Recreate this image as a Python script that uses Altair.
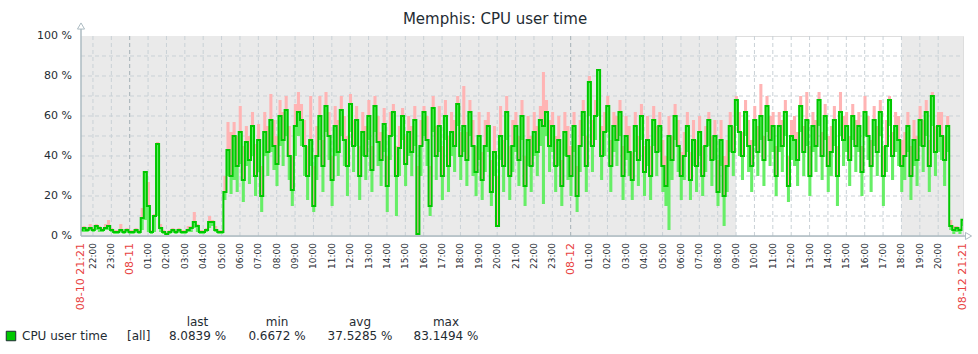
import altair as alt
import pandas as pd

# ---------------- data ----------------
STEP_MIN = 10  # one sample every 10 minutes, starting 08-10 21:21

avg_low = [3,4,3,4,3,5,4,3,4,5, 3,2,2,3,2,3,2,2,3,2, 9,32,15,2,10,46,4,2,1,2,
           3,2,3,2,2,3,4,7,5,2, 2,3,7,7,3,2,2]
max_low = [4,5,4,6,4,6,5,4,6,8, 4,3,3,6,3,4,3,3,4,3, 14,32,27,3,11,47,6,3,2,3,
           4,3,4,3,3,5,5,12,6,3, 3,4,10,8,5,3,3]
min_low = [2,2,2,3,2,3,2,2,3,3, 2,1,1,2,1,2,1,1,2,1, 3,8,2,1,2,10,2,1,1,1,
           2,1,2,1,1,2,2,4,2,1, 1,2,4,5,2,1,1]

avg_day = [
    22,43,30,50,35,52,  28,47,38,55,30,48,  20,52,42,58,45,36,  60,48,63,40,23,55,
    62,58,45,30,48,15,  40,60,35,65,50,28,  55,42,63,48,35,66,  45,58,30,52,40,60,
    33,65,47,38,56,25,  50,62,30,44,60,36,  52,42,58,1,45,62,   48,15,64,40,55,30,
    60,35,52,45,66,40,  55,38,62,45,32,50,  28,45,55,22,42,5,   50,35,62,30,45,55,
    38,60,25,48,35,52,  42,58,55,62,45,55,  35,48,25,52,40,30,  55,20,45,62,35,77,
    45,60,83,40,52,65,  35,55,48,62,30,50,  42,28,55,38,60,32,  48,30,58,42,55,35,
    25,50,38,60,45,30,  40,55,28,48,35,52,  30,45,58,38,50,22,  48,20,35,55,42,68,
    52,40,62,45,35,58,  42,60,38,65,48,55,  30,55,45,62,25,50,  48,38,65,42,58,30,
    55,45,68,40,60,35,  42,58,30,62,48,55,  38,60,45,55,32,62,  50,35,58,42,62,30,
    45,68,40,55,48,35,  40,55,30,48,38,58,  45,62,35,70,42,55,  50,38,55]
max_day = [
    30,57,52,57,50,65,  45,55,50,62,46,56,  35,62,55,71,58,50,  68,62,70,55,40,66,
    72,66,58,45,70,35,  55,70,48,72,62,40,  65,58,70,60,50,71,  58,65,45,62,55,68,
    45,70,60,52,64,40,  62,66,45,55,64,50,  60,55,65,35,58,65,  60,35,70,55,65,45,
    68,50,62,58,70,52,  75,52,68,58,45,62,  42,58,62,38,55,30,  65,48,70,45,58,62,
    50,68,40,60,50,62,  55,65,82,68,58,62,  50,60,38,62,55,45,  62,35,58,68,50,80,
    58,68,83.15,55,62,70, 48,62,60,68,45,60, 55,42,62,50,66,45,  60,45,65,55,62,48,
    40,60,50,66,58,42,  52,62,42,58,48,60,  45,55,62,50,58,38,  58,40,48,62,55,70,
    62,52,68,58,48,65,  55,76,50,70,60,62,  45,62,58,68,40,58,  60,52,70,55,72,45,
    62,58,72,52,66,50,  55,65,45,72,60,62,  50,66,58,62,45,70,  60,48,65,55,68,45,
    58,70,52,62,60,48,  52,62,45,58,50,65,  58,68,48,72,55,62,  62,50,60]
min_day = [
    18,30,21,28,22,36,  17,35,26,40,20,32,  12,40,30,42,33,25,  45,35,50,28,15,40,
    50,45,30,18,35,12,  28,48,22,52,38,15,  40,30,50,35,20,52,  32,45,18,40,28,48,
    22,52,35,25,42,12,  38,50,10,30,48,25,  40,30,45,0.6672,30,50, 35,10,52,28,42,18,
    48,22,40,32,55,28,  42,25,50,30,20,38,  18,32,42,15,30,5,   38,22,48,18,32,42,
    25,48,15,35,22,40,  30,45,16,50,32,42,  22,35,15,40,28,20,  42,12,32,50,22,60,
    32,48,60,28,40,52,  22,42,35,50,18,38,  30,18,42,25,48,20,  35,18,45,30,42,22,
    15,3,28,48,32,18,   28,42,18,35,22,40,  20,32,45,25,38,15,  35,5,22,42,30,55,
    40,28,50,32,22,45,  30,48,25,52,35,42,  20,42,32,50,17,38,  35,25,52,30,45,20,
    42,32,55,28,48,22,  30,45,15,50,35,42,  25,48,32,42,20,50,  38,22,45,30,50,15,
    32,55,28,42,35,22,  28,42,18,35,25,45,  32,50,22,55,30,42,  38,25,42]

avg_tail = [5,3,4,3,8.0839]
max_tail = [8,5,5,4,8.0839]
min_tail = [3,1,2,1,5]

avg_vals = avg_low + avg_day + avg_tail
max_vals = max_low + max_day + max_tail
min_vals = min_low + min_day + min_tail

# shaded (non-working) periods, minutes from 08-10 21:21
shade_start = [0, 2679]
shade_end = [2139, 2880]

tick_min = [0] + [39 + 60 * k for k in range(47)] + [2880]
tick_labels = (["08-10 21:21", "22:00", "23:00", "08-11"]
               + ["01:00","02:00","03:00","04:00","05:00","06:00","07:00","08:00",
                  "09:00","10:00","11:00","12:00","13:00","14:00","15:00","16:00",
                  "17:00","18:00","19:00","20:00","21:00","22:00","23:00"]
               + ["08-12"]
               + ["01:00","02:00","03:00","04:00","05:00","06:00","07:00","08:00",
                  "09:00","10:00","11:00","12:00","13:00","14:00","15:00","16:00",
                  "17:00","18:00","19:00","20:00"]
               + ["08-12 21:21"])
date_labels = ["08-10 21:21", "08-11", "08-12", "08-12 21:21"]

y_grid = [10, 20, 30, 40, 50, 60, 70, 80, 90]
y_ticks = [0, 20, 40, 60, 80, 100]
y_tick_labels = ["0 %", "20 %", "40 %", "60 %", "80 %", "100 %"]

legend_heads = ["last", "min", "avg", "max"]
legend_vals = ["8.0839 %", "0.6672 %", "37.5285 %", "83.1494 %"]

# ---------------- frames ----------------
series = pd.DataFrame({
    "m": [i * STEP_MIN for i in range(len(avg_vals))],
    "avg": avg_vals, "mn": min_vals, "mx": max_vals,
})
shade = pd.DataFrame({"a": shade_start, "b": shade_end})
ticks = pd.DataFrame({"m": tick_min, "label": tick_labels})
ticks["isdate"] = ticks["label"].isin(date_labels)
ticks["color"] = ticks["isdate"].map({True: "#E8423F", False: "#1F2C33"})
ticks["fs"] = ticks["isdate"].map({True: 11, False: 9})
vgrid = ticks[(ticks.m > 0) & (ticks.m < 2880)].copy()
vgrid["c"] = vgrid["isdate"].map({True: "#A3AFB6", False: "#C9D1D6"})
hgrid = pd.DataFrame({"v": y_grid})
ylab = pd.DataFrame({"v": y_ticks, "t": y_tick_labels})

FONT = "DejaVu Sans"
TXT = "#1F2C33"
W, H = 882, 200
xs = alt.Scale(domain=[0, 2880], nice=False)
ys = alt.Scale(domain=[0, 100], nice=False)

base = alt.Chart(series)

bg = alt.Chart(shade).mark_rect(color="#EAEAEA").encode(
    x=alt.X("a:Q", scale=xs, axis=None), x2="b:Q",
    y=alt.value(0), y2=alt.value(H))

vg = alt.Chart(vgrid).mark_rule(strokeDash=[4, 3], strokeWidth=1).encode(
    x=alt.X("m:Q", scale=xs, axis=None), y=alt.value(0), y2=alt.value(H),
    color=alt.Color("c:N", scale=None))

hg = alt.Chart(hgrid).mark_rule(strokeDash=[4, 3], strokeWidth=1, color="#C9D1D6").encode(
    y=alt.Y("v:Q", scale=ys, axis=None), x=alt.value(0), x2=alt.value(W))

area_max = base.mark_area(color="#FFB4B4", interpolate="step").encode(
    x=alt.X("m:Q", scale=xs, axis=None),
    y=alt.Y("mx:Q", scale=ys, axis=None), y2="avg:Q")
area_min = base.mark_area(color="#66EE66", interpolate="step").encode(
    x=alt.X("m:Q", scale=xs, axis=None),
    y=alt.Y("avg:Q", scale=ys, axis=None), y2="mn:Q")
line_avg = base.mark_line(color="#00C800", strokeWidth=2, interpolate="step").encode(
    x=alt.X("m:Q", scale=xs, axis=None),
    y=alt.Y("avg:Q", scale=ys, axis=None))

axes_df = pd.DataFrame({"x0": [0, 0], "x1": [0, 2896], "y0": [0, 0], "y1": [104, 0]})
axis_lines = alt.Chart(axes_df).mark_rule(color="#ACBBC2", strokeWidth=1.5).encode(
    x=alt.X("x0:Q", scale=xs, axis=None), x2="x1:Q",
    y=alt.Y("y0:Q", scale=ys, axis=None), y2="y1:Q")
arrows_df = pd.DataFrame({"x": [0, 2898], "y": [105, 0], "s": ["triangle-up", "triangle-right"]})
arrows = alt.Chart(arrows_df).mark_point(filled=True, fill="white", stroke="#ACBBC2",
                                         strokeWidth=1, size=50, opacity=1).encode(
    x=alt.X("x:Q", scale=xs, axis=None), y=alt.Y("y:Q", scale=ys, axis=None),
    shape=alt.Shape("s:N", scale=None))

ylabels = alt.Chart(ylab).mark_text(font=FONT, fontSize=11, color=TXT,
                                    align="right", baseline="middle").encode(
    x=alt.value(-9), y=alt.Y("v:Q", scale=ys, axis=None), text="t:N")

xlabels = alt.Chart(ticks).mark_text(angle=270, align="right", baseline="middle",
                                     font=FONT).encode(
    x=alt.X("m:Q", scale=xs, axis=None), y=alt.value(207),
    text="label:N", color=alt.Color("color:N", scale=None),
    size=alt.Size("fs:Q", scale=None))

title = alt.Chart(pd.DataFrame({"t": ["Memphis: CPU user time"]})).mark_text(
    font=FONT, fontSize=15, color=TXT, align="center", baseline="middle").encode(
    x=alt.value(414), y=alt.value(-17), text="t:N")

leg_sq = alt.Chart(pd.DataFrame({"k": [1]})).mark_square(
    size=90, fill="#00C800", stroke=TXT, strokeWidth=1, opacity=1).encode(
    x=alt.value(-70), y=alt.value(300))
leg_name = alt.Chart(pd.DataFrame({"t": ["CPU user time"]})).mark_text(
    font=FONT, fontSize=12, color=TXT, align="left", baseline="middle").encode(
    x=alt.value(-59), y=alt.value(300), text="t:N")
leg_all = alt.Chart(pd.DataFrame({"t": ["[all]"]})).mark_text(
    font=FONT, fontSize=12, color=TXT, align="left", baseline="middle").encode(
    x=alt.value(46), y=alt.value(300), text="t:N")
leg_df = pd.DataFrame({"h": legend_heads, "v": legend_vals,
                       "cx": [116.5, 196, 279, 365]})
leg_heads = alt.Chart(leg_df).mark_text(
    font=FONT, fontSize=12, color=TXT, align="center", baseline="middle").encode(
    x=alt.X("cx:Q", scale=None), y=alt.value(286), text="h:N")
leg_vals = alt.Chart(leg_df).mark_text(
    font=FONT, fontSize=12, color=TXT, align="center", baseline="middle").encode(
    x=alt.X("cx:Q", scale=None), y=alt.value(300), text="v:N")

chart = alt.layer(
    bg, vg, hg, area_max, area_min, line_avg, axis_lines, arrows, ylabels, xlabels,
    title, leg_sq, leg_name, leg_all, leg_heads, leg_vals
).properties(
    width=W, height=H,
    autosize=alt.AutoSizeParams(type="none"),
    padding={"left": 81, "top": 36, "right": 15, "bottom": 118},
).configure_view(stroke=None).configure(background="white")

chart.save("out.html", embed_options={"renderer": "svg", "actions": False})
